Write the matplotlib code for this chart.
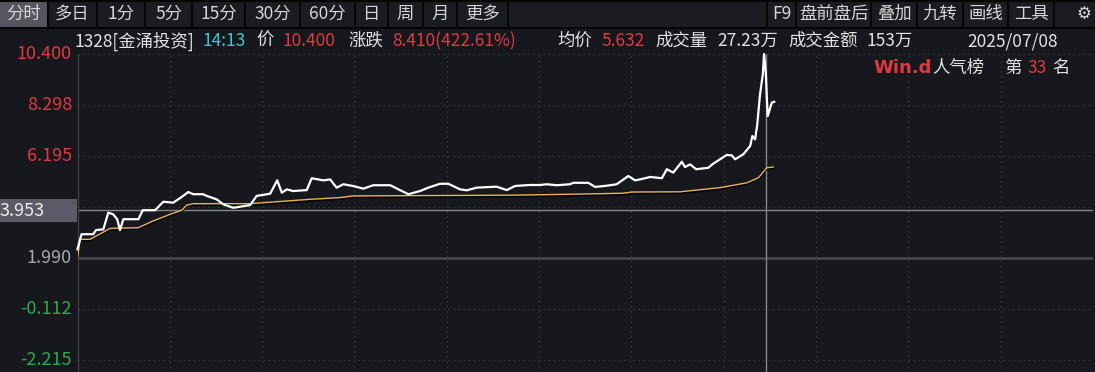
import matplotlib
matplotlib.use("Agg")
import matplotlib.pyplot as plt
import matplotlib.patheffects as pe
from matplotlib.patches import Rectangle
from matplotlib.lines import Line2D

plt.rcParams['font.family'] = ['Noto Sans CJK SC', 'DejaVu Sans']

# ---------------- data ----------------
price_t = [0, 1.3, 5.1, 6.0, 8.4, 10.0, 11.6, 12.9, 13.8, 14.9, 19.8, 21.2, 25.2, 27.9, 31.1,
           33.9, 36.0, 37.6, 40.8, 42.0, 45.2, 47.4, 50.6, 56.1, 58.2, 62.6, 64.9, 66.4, 68.0,
           70.1, 74.5, 76.1, 79.9, 82.1, 84.2, 86.4, 89.5, 92.9, 96.1, 101.6, 107.5, 111.3,
           114.0, 117.8, 120.5, 124.3, 126.5, 129.7, 136.2, 139.5, 142.2, 147.0, 150.3, 152.5,
           155.7, 160.0, 161.1, 166.0, 168.2, 172.0, 175.2, 179.0, 181.2, 182.8, 186.1, 189.9,
           191.5, 193.6, 196.4, 197.4, 199.1, 201.0, 205.0, 206.6, 208.8, 211.0, 212.6, 213.7,
           216.4, 218.6, 219.3, 220.2, 220.9, 221.8, 222.7, 223.1, 223.7, 224.0, 224.3, 225.6,
           226.4]
price_v = [2.35, 2.97, 2.97, 3.14, 3.17, 3.86, 3.79, 3.59, 3.14, 3.59, 3.59, 3.96, 3.96, 4.31,
           4.27, 4.51, 4.71, 4.62, 4.62, 4.55, 4.41, 4.20, 4.06, 4.17, 4.55, 4.64, 5.19, 4.68,
           4.82, 4.75, 4.79, 5.28, 5.19, 5.23, 4.89, 5.03, 4.96, 4.85, 4.99, 4.99, 4.62, 4.75,
           4.89, 5.05, 5.05, 4.82, 4.78, 4.89, 4.93, 4.79, 4.96, 5.00, 5.00, 5.03, 4.99, 5.03,
           5.09, 5.09, 4.92, 4.97, 5.03, 5.37, 5.19, 5.23, 5.33, 5.28, 5.65, 5.51, 5.96, 5.74,
           5.85, 5.65, 5.71, 5.88, 6.06, 6.24, 6.22, 6.06, 6.27, 6.61, 7.02, 6.88, 7.50, 8.74,
           9.56, 10.40, 9.56, 8.60, 7.84, 8.39, 8.43]

avg_t = [0, 0.8, 4.1, 10.6, 19.8, 24.6, 30.1, 33.9, 35.5, 37.6, 56.1, 64.7, 75.6, 85.3, 89.6,
         141.5, 161.0, 177.3, 180.1, 195.8, 208.8, 217.5, 221.3, 224.0, 226.1]
avg_v = [1.94, 2.76, 2.76, 3.21, 3.24, 3.52, 3.79, 3.96, 4.17, 4.23, 4.23, 4.31, 4.41, 4.48,
         4.55, 4.58, 4.62, 4.66, 4.71, 4.72, 4.89, 5.09, 5.30, 5.71, 5.74]

prev_close = 1.990
y_ticks = [10.400, 8.298, 6.195, 4.093, 1.990, -0.112, -2.215]
y_labels = ["10.400", "8.298", "6.195", "4.093", "1.990", "-0.112", "-2.215"]
x_grid = [30, 60, 90, 120, 150, 180, 210, 240, 270, 300]
cross_t, cross_v = 223.7, 3.953

toolbar_left = ["分时", "多日", "1分", "5分", "15分", "30分", "60分", "日", "周", "月", "更多"]
toolbar_right = ["F9", "盘前盘后", "叠加", "九转", "画线", "工具"]

# ---------------- style ----------------
W, H = 1095, 372
BG = "#16181d"
RED = "#e0393e"
GREEN = "#2ea84e"
GRAY_TXT = "#a8a9ad"
WHITE_TXT = "#e2e2e2"
CYAN = "#3ec6d2"
GRID = "#3b3e45"
FS = 12.5

fig = plt.figure(figsize=(W / 100, H / 100), dpi=100, facecolor=BG)


def fx(x):
    return x / W


def fy(y):
    return 1 - y / H


# main axes: x 77.5..1093 px, y 54..372 px
ax_l, ax_r, ax_t, ax_b = 77.5, 1093, 54, 372
ax = fig.add_axes([fx(ax_l), 0, fx(ax_r - ax_l), (ax_b - ax_t) / H])
ax.set_facecolor(BG)
ax.set_xlim(0, 330)
ymax = 10.400
ymin = ymax - (ax_b - ax_t) * (2.1025 / 51.0)
ax.set_ylim(ymin, ymax)
for s in ["top", "bottom", "right"]:
    ax.spines[s].set_visible(False)
ax.spines["left"].set_color("#3d4047")
ax.spines["left"].set_linewidth(1.0)
ax.set_xticks([])
ax.set_yticks([])

for v in y_ticks:
    if abs(v - prev_close) < 1e-6:
        ax.axhline(v, color="#45474d", lw=2.0, zorder=1)
    else:
        ax.axhline(v, color=GRID, lw=0.9, ls=(0, (1, 3)), zorder=1)
for t in x_grid:
    ax.axvline(t, color=GRID, lw=0.9, ls=(0, (1, 3)), zorder=1)

# crosshair
ax.axhline(cross_v, color="#85868b", lw=1.0, zorder=2)
ax.axvline(cross_t, color="#85868b", lw=1.0, zorder=2)

ax.plot(avg_t, avg_v, color="#e9b04c", lw=1.0, zorder=3, solid_joinstyle="miter",
        path_effects=[pe.SimpleLineShadow(offset=(0, -1.2), shadow_color="black", alpha=0.9),
                      pe.Normal()])
ax.plot(price_t, price_v, color="white", lw=1.6, zorder=4, clip_on=False)

# y labels
for v, lab in zip(y_ticks, y_labels):
    if abs(v - 4.093) < 1e-6:
        continue
    if v > prev_close + 1e-6:
        c = RED
    elif v < prev_close - 1e-6:
        c = GREEN
    else:
        c = GRAY_TXT
    ypix = ax_t + (ymax - v) / (ymax - ymin) * (ax_b - ax_t)
    fig.text(fx(72), fy(ypix), lab, color=c, fontsize=13, ha="right", va="center")

# crosshair value box
fig.patches.append(Rectangle((0, fy(222)), fx(77), (222 - 199) / H, transform=fig.transFigure,
                             facecolor="#5a5b66", edgecolor="none", zorder=5))
fig.text(fx(0), fy(210.5), "3.953", color="#ececec", fontsize=13, ha="left", va="center", zorder=6)

# ---------------- toolbar ----------------
fig.patches.append(Rectangle((0, fy(27)), 1, 27 / H, transform=fig.transFigure,
                             facecolor="#1a1c21", edgecolor="none", zorder=0))
fig.add_artist(Line2D([0, 1], [fy(27.5), fy(27.5)], color="#050506", lw=1.5))
fig.add_artist(Line2D([0, 1], [fy(0.5), fy(0.5)], color="#050506", lw=1.5))
left_edges = [0, 48, 97, 145, 192, 245, 300, 355, 388, 423, 457, 508]
for i, lab in enumerate(toolbar_left):
    x0, x1 = left_edges[i], left_edges[i + 1]
    if i == 0:
        fig.patches.append(Rectangle((fx(x0), fy(27)), fx(x1 - x0), 26 / H, transform=fig.transFigure,
                                     facecolor="#55565f", edgecolor="none", zorder=1))
    fig.text(fx((x0 + x1) / 2), fy(14), lab, color="#d6d6d6", fontsize=FS, ha="center", va="center")
for x in left_edges[1:]:
    fig.add_artist(Line2D([fx(x), fx(x)], [fy(1), fy(27)], color="#050506", lw=1.5))

right_edges = [767, 796, 871, 917, 963, 1008, 1054]
for i, lab in enumerate(toolbar_right):
    x0, x1 = right_edges[i], right_edges[i + 1]
    fig.text(fx((x0 + x1) / 2), fy(14), lab, color="#d6d6d6", fontsize=FS, ha="center", va="center")
for x in right_edges:
    fig.add_artist(Line2D([fx(x), fx(x)], [fy(1), fy(27)], color="#050506", lw=1.5))
fig.text(fx(1076), fy(14), "⚙", color="#d6d6d6", fontsize=12, ha="left", va="center",
         family=["DejaVu Sans"])

# ---------------- info line ----------------
info = [
    (75, "1328[金涌投资]", WHITE_TXT),
    (202, "14:13", CYAN),
    (256, "价", WHITE_TXT),
    (283, "10.400", RED),
    (348, "涨跌", WHITE_TXT),
    (392, "8.410(422.61%)", RED),
    (557, "均价", WHITE_TXT),
    (601, "5.632", RED),
    (655, "成交量", WHITE_TXT),
    (717, "27.23万", WHITE_TXT),
    (788, "成交金额", WHITE_TXT),
    (867, "153万", WHITE_TXT),
    (967, "2025/07/08", WHITE_TXT),
]
for x, s, c in info:
    fig.text(fx(x), fy(41), s, color=c, fontsize=FS, ha="left", va="center")

# ---------------- Win.d badge ----------------
fig.text(fx(873), fy(68), "Win.d", color=RED, fontsize=13, fontweight="bold", ha="left", va="center",
         family=["DejaVu Sans"])
fig.text(fx(932), fy(68), "人气榜", color=WHITE_TXT, fontsize=FS, ha="left", va="center")
fig.text(fx(1004), fy(68), "第", color=WHITE_TXT, fontsize=FS, ha="left", va="center")
fig.text(fx(1027), fy(68), "33", color=RED, fontsize=FS, ha="left", va="center")
fig.text(fx(1052), fy(68), "名", color=WHITE_TXT, fontsize=FS, ha="left", va="center")

fig.savefig("out.png", dpi=100, facecolor=BG)
